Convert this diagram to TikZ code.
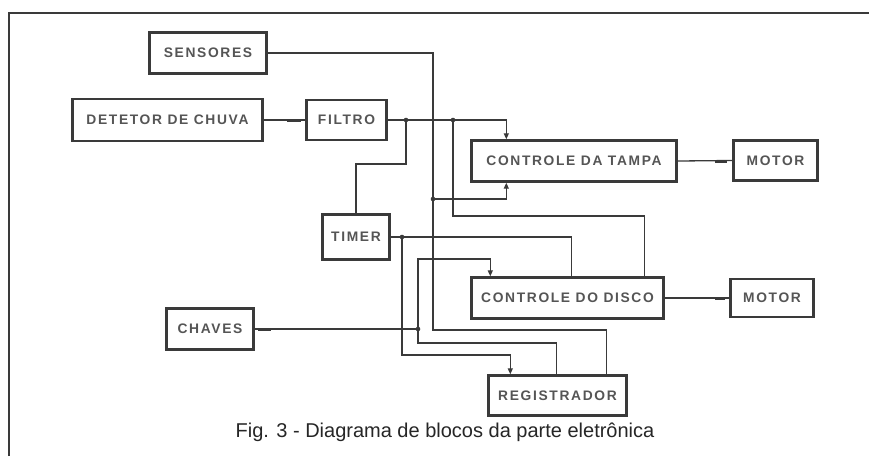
\documentclass[tikz,border=0pt]{standalone}
\usepackage{fontspec}
\setmainfont{Liberation Sans}
\newfontfamily\lblfont[LetterSpace=12]{Liberation Sans Bold}
\usetikzlibrary{arrows.meta}
\definecolor{ink}{HTML}{3A3A3A}
\definecolor{txt}{HTML}{555555}
\tikzset{
  blk/.style={draw=ink, line width=2.4pt, inner sep=0pt, text=txt,
    font=\lblfont\fontsize{13.8}{16}\selectfont},
  wire/.style={draw=ink, line width=1.3pt},
  arr/.style={wire, -{Triangle[width=5pt,length=6pt]}},
  blob/.style={draw=ink, line width=3pt},
  jdot/.style={fill=ink},
}
\begin{document}
\begin{tikzpicture}[x=1pt,y=-1pt]
\useasboundingbox (0,0) rectangle (869,456);
\fill[white] (0,0) rectangle (869,456);
% frame
\draw[ink, line width=1.3pt] (9,456) -- (9,13) -- (869,13);
% blocks
\node[blk, minimum width=117pt, minimum height=41pt] (sens) at (208,53) {SENSORES};
\node[blk, minimum width=190pt, minimum height=42pt] (det) at (167.5,120) {DETETOR DE CHUVA};
\node[blk, minimum width=80pt, minimum height=40pt] (filt) at (346.5,120) {FILTRO};
\node[blk, minimum width=205pt, minimum height=41pt] (tampa) at (574,161) {CONTROLE DA TAMPA};
\node[blk, minimum width=84pt, minimum height=40pt] (mot1) at (775.5,160.5) {MOTOR};
\node[blk, minimum width=67pt, minimum height=45pt] (timer) at (356,237) {TIMER};
\node[blk, minimum width=192pt, minimum height=41pt] (disco) at (567.5,298) {CONTROLE DO DISCO};
\node[blk, minimum width=83pt, minimum height=38pt] (mot2) at (772,298) {MOTOR};
\node[blk, minimum width=87pt, minimum height=41pt] (chav) at (210,329) {CHAVES};
\node[blk, minimum width=138pt, minimum height=40pt] (reg) at (557.5,395.5) {REGISTRADOR};
% caption
\node[anchor=base, text=black!85, font=\fontsize{20}{24}\selectfont] (cap) at (445,437) {Fig. 3 - Diagrama de blocos da parte eletrônica};
% junctions
\coordinate (jF1) at (406,120);
\coordinate (jF2) at (453,120);
\coordinate (jS) at (433,199);
\coordinate (jT) at (402,237);
\coordinate (jC) at (418,329);
% connectors
\draw[wire] (det.east) -- (filt.west);
\draw[blob] (287,120) -- (301,120);
\draw[arr] (filt.east) -| ([xshift=36pt]tampa.north west);
\draw[wire] (jF1) -- (406,164) -| (timer.north);
\draw[wire] (jF2) -- (453,216) -| ([xshift=174pt]disco.north west);
\draw[wire] (sens.east) -| (433,330) -| ([xshift=119pt]reg.north west);
\draw[arr] (jS) -| ([xshift=36pt]tampa.south west);
\draw[wire] (timer.east) -| ([xshift=101pt]disco.north west);
\draw[arr] (jT) -- (402,355) -| ([xshift=23pt]reg.north west);
\draw[wire] (chav.east) -- (jC);
\draw[blob] (258,329) -- (271,329);
\draw[arr] (jC) -- (418,259) -| ([xshift=20pt]disco.north west);
\draw[wire] (jC) -- (418,343) -| ([xshift=69pt]reg.north west);
\draw[wire] (tampa.east) -- (mot1.west);
\draw[blob] (715,161) -- (727,161);
\draw[wire] (disco.east) -- (mot2.west);
\draw[blob] (715,298) -- (725,298);
% junction dots
\foreach \j in {jF1,jF2,jS,jT,jC} \fill[jdot] (\j) circle (2.3pt);
\end{tikzpicture}
\end{document}
